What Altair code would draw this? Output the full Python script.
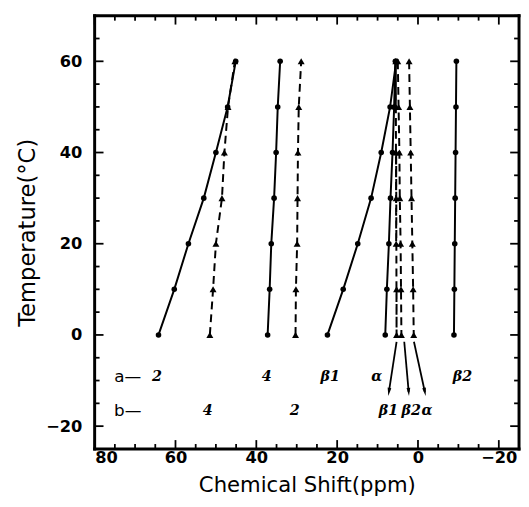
import altair as alt
import pandas as pd

# ---- data ----
temps = [0, 10, 20, 30, 40, 50, 60]

# solid lines (a) with circles
a_names = ["a2", "a4", "a_beta1", "a_alpha", "a_beta2"]
a_shifts = [
    [64.2, 60.3, 56.8, 53.0, 50.0, 47.1, 45.1],
    [37.2, 36.7, 36.3, 35.6, 35.1, 34.7, 34.1],
    [22.4, 18.5, 14.9, 11.6, 9.1, 6.9, 5.4],
    [8.1, 7.7, 7.2, 6.8, 6.3, 5.9, 5.6],
    [-8.9, -9.0, -9.1, -9.2, -9.3, -9.4, -9.5],
]

# dashed lines (b) with triangles
b_names = ["b4", "b2", "b_beta1", "b_beta2", "b_alpha"]
b_shifts = [
    [51.5, 50.7, 50.0, 48.5, 47.9, 47.0, 45.3],
    [30.3, 30.2, 29.9, 29.8, 29.7, 29.5, 28.9],
    [5.3, 5.3, 5.4, 5.4, 5.4, 5.5, 5.5],
    [4.1, 4.2, 4.3, 4.5, 4.6, 4.8, 5.0],
    [1.05, 1.2, 1.4, 1.6, 1.8, 2.0, 2.2],
]

# annotation labels
row_a_text = ["a\u2014", "2", "4", "\u03b21", "\u03b1", "\u03b22"]
row_a_x = [71.8, 64.6, 37.4, 21.7, 10.2, -11.0]
row_a_y = -9.2
row_b_text = ["b\u2014", "4", "2", "\u03b21", "\u03b22", "\u03b1"]
row_b_x = [71.8, 52.0, 30.5, 7.3, 1.7, -2.2]
row_b_y = -16.8

# arrows from b series to the lower labels
arrow_x1 = [5.3, 3.4, 1.0]
arrow_y1 = [-1.5, -1.5, -1.5]
arrow_x2 = [7.2, 2.3, -1.7]
arrow_y2 = [-12.5, -12.5, -12.5]
arrow_angle = [8, 356, 349]

# axis ticks
x_major = [80, 60, 40, 20, 0, -20]
x_minor = [75, 70, 65, 55, 50, 45, 35, 30, 25, 15, 10, 5, -5, -10, -15, -25]
y_major = [60, 40, 20, 0, -20]
y_minor = [70, 65, 55, 50, 45, 35, 30, 25, 15, 10, 5, -5, -10, -15, -25]

# ---- build tables ----
rows = []
for n, s in zip(a_names, a_shifts):
    for t, v in zip(temps, s):
        rows.append({"series": n, "T": t, "shift": v})
df_a = pd.DataFrame(rows)
rows = []
for n, s in zip(b_names, b_shifts):
    for t, v in zip(temps, s):
        rows.append({"series": n, "T": t, "shift": v})
df_b = pd.DataFrame(rows)

df_txt_a = pd.DataFrame({"label": row_a_text, "x": row_a_x, "y": [row_a_y] * len(row_a_x)})
df_txt_b = pd.DataFrame({"label": row_b_text, "x": row_b_x, "y": [row_b_y] * len(row_b_x)})
df_arrow = pd.DataFrame({"x1": arrow_x1, "y1": arrow_y1, "x2": arrow_x2, "y2": arrow_y2,
                         "angle": arrow_angle})

W, H = 431, 440
FONT = "DejaVu Sans"

xs = alt.Scale(domain=[-25, 80], reverse=True, nice=False, zero=False)
ys = alt.Scale(domain=[-25, 70], nice=False, zero=False)

x_axis = alt.Axis(values=x_major, ticks=False, domain=False, grid=False,
                  labelFont=FONT, labelFontSize=16.5, labelFontWeight="bold",
                  labelColor="black", labelPadding=1,
                  title="Chemical  Shift(ppm)", titleFont=FONT, titleFontSize=21.5,
                  titleFontWeight="normal", titleColor="black", titlePadding=9)
y_axis = alt.Axis(values=y_major, ticks=False, domain=False, grid=False,
                  labelFont=FONT, labelFontSize=16.5, labelFontWeight="bold",
                  labelColor="black", labelPadding=13,
                  title="Temperature(\u00b0C)", titleFont=FONT, titleFontSize=23,
                  titleFontWeight="normal", titleColor="black", titlePadding=6)

lines_a = alt.Chart(df_a).mark_line(color="black", strokeWidth=2).encode(
    x=alt.X("shift:Q", scale=xs, axis=x_axis),
    y=alt.Y("T:Q", scale=ys, axis=y_axis),
    detail="series:N",
)
pts_a = alt.Chart(df_a).mark_point(shape="circle", filled=True, color="black",
                                   size=32, opacity=1).encode(
    x=alt.X("shift:Q", scale=xs), y=alt.Y("T:Q", scale=ys))

lines_b = alt.Chart(df_b).mark_line(color="black", strokeWidth=2,
                                    strokeDash=[8, 5]).encode(
    x=alt.X("shift:Q", scale=xs), y=alt.Y("T:Q", scale=ys), detail="series:N")
pts_b = alt.Chart(df_b).mark_point(shape="triangle-up", filled=True, color="black",
                                   size=50, opacity=1).encode(
    x=alt.X("shift:Q", scale=xs), y=alt.Y("T:Q", scale=ys))

arrows = alt.Chart(df_arrow).mark_rule(color="black", strokeWidth=1.8).encode(
    x=alt.X("x1:Q", scale=xs), y=alt.Y("y1:Q", scale=ys), x2="x2:Q", y2="y2:Q")
heads = alt.Chart(df_arrow).mark_point(shape="M-0.45,-1L0.45,-1L0,1Z", filled=True,
                                       color="black", size=70, opacity=1).encode(
    x=alt.X("x2:Q", scale=xs), y=alt.Y("y2:Q", scale=ys),
    angle=alt.Angle("angle:Q", scale=None))

def label_layer(df, fontsize):
    tl = alt.Chart(df).transform_filter("indexof(datum.label, '\u2014') >= 0").mark_text(
        font=FONT, fontSize=17, color="black", align="center", baseline="middle").encode(
        x=alt.X("x:Q", scale=xs), y=alt.Y("y:Q", scale=ys), text="label:N")
    tn = alt.Chart(df).transform_filter("indexof(datum.label, '\u2014') < 0").mark_text(
        font="DejaVu Serif", fontSize=fontsize, fontWeight="bold", fontStyle="italic",
        color="black", align="center", baseline="middle").encode(
        x=alt.X("x:Q", scale=xs), y=alt.Y("y:Q", scale=ys), text="label:N")
    return tl + tn

txt_a = label_layer(df_txt_a, 14.5)
txt_b = label_layer(df_txt_b, 14.5)

# tick marks drawn inward
def xticks(vals, length):
    d = pd.DataFrame({"v": vals})
    bot = alt.Chart(d).mark_rule(color="black", strokeWidth=1.8).encode(
        x=alt.X("v:Q", scale=xs), y=alt.value(H), y2=alt.value(H - length))
    top = alt.Chart(d).mark_rule(color="black", strokeWidth=1.8).encode(
        x=alt.X("v:Q", scale=xs), y=alt.value(0), y2=alt.value(length))
    return bot + top

def yticks(vals, length):
    d = pd.DataFrame({"v": vals})
    left = alt.Chart(d).mark_rule(color="black", strokeWidth=1.8).encode(
        y=alt.Y("v:Q", scale=ys), x=alt.value(0), x2=alt.value(length))
    right = alt.Chart(d).mark_rule(color="black", strokeWidth=1.8).encode(
        y=alt.Y("v:Q", scale=ys), x=alt.value(W), x2=alt.value(W - length))
    return left + right

# plot frame
frame_side = ["left", "right", "top", "bottom"]
df_frame = pd.DataFrame({"side": frame_side,
                         "px": [0, W, 0, 0], "px2": [0, W, W, W],
                         "py": [0, 0, 0, H], "py2": [H, H, 0, H]})
frame = alt.Chart(df_frame).mark_rule(color="black", strokeWidth=3, strokeCap="square").encode(
    x=alt.X("px:Q", scale=None), x2="px2:Q",
    y=alt.Y("py:Q", scale=None), y2="py2:Q")

chart = alt.layer(
    lines_a, pts_a, lines_b, pts_b, arrows, heads, txt_a, txt_b,
    xticks(x_major, 9), xticks(x_minor, 5), yticks(y_major, 9), yticks(y_minor, 5),
    frame,
).properties(
    width=W, height=H,
    autosize=alt.AutoSizeParams(type="none"),
    padding={"left": 88, "top": 4, "right": 2, "bottom": 47},
).configure_view(
    stroke=None,
).configure(background="white")

chart.save("out.html", embed_options={"renderer": "svg", "actions": False})
